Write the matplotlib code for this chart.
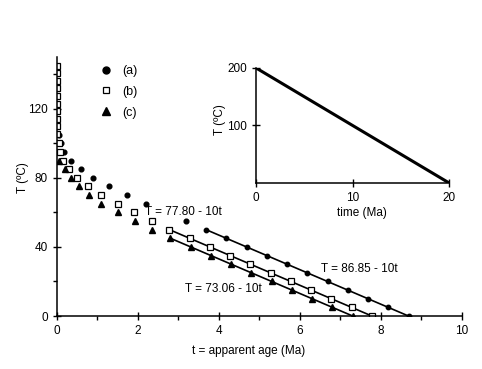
import numpy as np
import matplotlib
matplotlib.use("Agg")
import matplotlib.pyplot as plt
from matplotlib.lines import Line2D

plt.rcParams['font.family'] = ['Liberation Sans', 'DejaVu Sans']
plt.rcParams['font.size'] = 8.5

# scattered apparent ages (Ma) and temperatures (C)
a_t = [0.05, 0.10, 0.17, 0.35, 0.59, 0.90, 1.28, 1.72, 2.20, 3.18]
a_T = [105, 100, 95, 90, 85, 80, 75, 70, 65, 55]

b_t = [0.0, 0.0, 0.0, 0.0, 0.0, 0.0, 0.0, 0.0, 0.0, 0.0,
       0.05, 0.07, 0.16, 0.30, 0.50, 0.77, 1.10, 1.50, 1.90, 2.35]
b_T = [145, 140.6, 136.2, 131.8, 127.4, 123, 118.6, 114.2, 109.8, 105.4,
       100, 95, 90, 85, 80, 75, 70, 65, 60, 55]

c_t = [0.06, 0.20, 0.36, 0.54, 0.80, 1.10, 1.50, 1.92, 2.36]
c_T = [90, 85, 80, 75, 70, 65, 60, 55, 50]

# points on the linear (fitted) part
a_line_t = [3.685, 4.185, 4.685, 5.185, 5.685, 6.185, 6.685, 7.185, 7.685, 8.185, 8.685]
a_line_T = [50, 45, 40, 35, 30, 25, 20, 15, 10, 5, 0]
b_line_t = [2.78, 3.28, 3.78, 4.28, 4.78, 5.28, 5.78, 6.28, 6.78, 7.28, 7.78]
b_line_T = [50, 45, 40, 35, 30, 25, 20, 15, 10, 5, 0]
c_line_t = [2.806, 3.306, 3.806, 4.306, 4.806, 5.306, 5.806, 6.306, 6.806, 7.306]
c_line_T = [45, 40, 35, 30, 25, 20, 15, 10, 5, 0]

# inset: imposed cooling history
hist_time = [0, 20]
hist_T = [200, 0]

fig = plt.figure(figsize=(4.82, 3.69), dpi=100)
ax = fig.add_axes([0.118, 0.1436, 0.840, 0.702])

ax.plot(a_t, a_T, 'o', color='black', ms=3.4, ls='none')
ax.plot(b_t, b_T, 's', mfc='white', mec='black', mew=0.9, ms=5, ls='none')
ax.plot(c_t, c_T, '^', color='black', ms=5, ls='none')

ax.plot(a_line_t, a_line_T, '-o', color='black', lw=1.2, ms=3.2)
ax.plot(b_line_t, b_line_T, '-s', color='black', lw=1.2, ms=5, mfc='white', mew=0.9)
ax.plot(c_line_t, c_line_T, '-^', color='black', lw=1.2, ms=4.5)

ax.text(2.17, 60, 'T = 77.80 - 10t', va='center', ha='left')
ax.text(3.16, 15.4, 'T = 73.06 - 10t', va='center', ha='left')
ax.text(6.53, 27.5, 'T = 86.85 - 10t', va='center', ha='left')

ax.set_xlim(0, 10)
ax.set_ylim(0, 150)
ax.set_xticks([0, 2, 4, 6, 8, 10])
ax.set_xticks([1, 3, 5, 7, 9], minor=True)
ax.set_yticks([0, 40, 80, 120])
ax.set_yticks([20, 60, 100, 140], minor=True)
ax.tick_params(which='major', direction='inout', length=6, width=1)
ax.tick_params(which='minor', direction='out', length=3, width=1)
for s in ['top', 'right']:
    ax.spines[s].set_visible(False)
for s in ['left', 'bottom']:
    ax.spines[s].set_linewidth(1.1)

ax.set_xlabel('t = apparent age (Ma)')
ax.set_ylabel('T (ºC)')
ax.xaxis.set_label_coords(0.474, -0.112)
ax.yaxis.set_label_coords(-0.068, 0.533)

handles = [
    Line2D([], [], marker='o', color='black', ls='none', ms=5),
    Line2D([], [], marker='s', mfc='white', mec='black', mew=0.9, ls='none', ms=5),
    Line2D([], [], marker='^', color='black', ls='none', ms=6),
]
ax.legend(handles, ['(a)', '(b)', '(c)'], frameon=False, loc='upper left',
          bbox_to_anchor=(0.062, 1.012), labelspacing=0.7, handletextpad=0.35,
          fontsize=9)

# inset
ins = fig.add_axes([0.531, 0.504, 0.401, 0.312])
ins.plot(hist_time, hist_T, color='black', lw=2.2)
ins.set_xlim(0, 20)
ins.set_ylim(0, 200)
ins.set_xticks([0, 10, 20])
ins.set_yticks([100, 200])
ins.tick_params(direction='inout', length=6, width=1)
for s in ['top', 'right']:
    ins.spines[s].set_visible(False)
for s in ['left', 'bottom']:
    ins.spines[s].set_linewidth(1.1)
ins.set_xlabel('time (Ma)')
ins.set_ylabel('T (ºC)')
ins.xaxis.set_label_coords(0.548, -0.206)
ins.yaxis.set_label_coords(-0.155, 0.55)

fig.savefig('out.png', dpi=100)
